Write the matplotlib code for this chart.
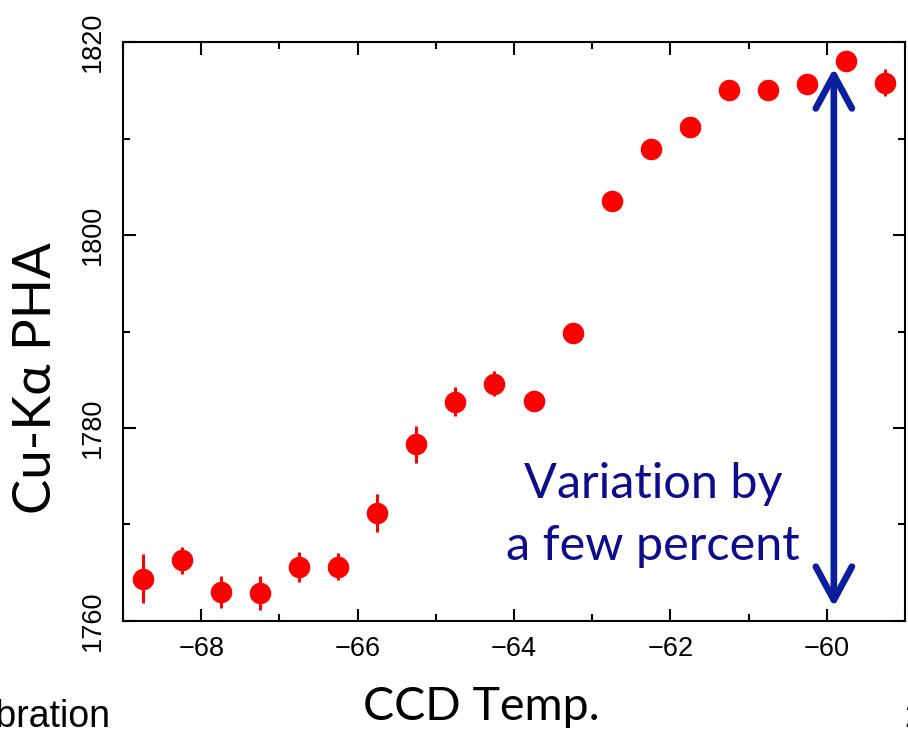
import matplotlib
matplotlib.use('Agg')

import matplotlib.pyplot as plt
from matplotlib.ticker import MultipleLocator

# Data
ccd_temp = [-68.75, -68.25, -67.75, -67.25, -66.75, -66.25, -65.75, -65.25, -64.75, -64.25,
            -63.75, -63.25, -62.75, -62.25, -61.75, -61.25, -60.75, -60.25, -59.75, -59.25]
pha = [1764.4, 1766.3, 1763.0, 1762.9, 1765.6, 1765.6, 1771.2, 1778.3, 1782.7, 1784.6,
       1782.8, 1789.8, 1803.5, 1808.9, 1811.2, 1815.0, 1815.0, 1815.6, 1818.0, 1815.8]
pha_err = [2.5, 1.4, 1.7, 1.75, 1.6, 1.4, 2.0, 1.9, 1.5, 1.3,
           0.9, 0.8, 0.8, 0.8, 0.8, 0.8, 0.8, 0.9, 0.8, 1.4]

x_ticks = [-68, -66, -64, -62, -60]
y_ticks = [1760, 1780, 1800, 1820]

# annotation arrow (data coords)
arrow_x = -59.91
arrow_lo, arrow_hi = 1761.45, 1817.3

COLORS = {
    "points": "#ff0000",
    "arrow": "#0b1e9e",
    "note": "#0c0c8c",
    "axis": "#000000",
}

fig = plt.figure(figsize=(9.08, 7.31), dpi=100)
ax = fig.add_axes([0.1355, 0.1505, 0.8612, 0.792])

ax.errorbar(ccd_temp, pha, yerr=pha_err, fmt='o', color=COLORS["points"],
            markersize=14.5, elinewidth=2.2, capsize=0, zorder=3)

ax.set_xlim(-69, -59)
ax.set_ylim(1760, 1820)
ax.set_xticks(x_ticks)
ax.set_yticks(y_ticks)
ax.xaxis.set_minor_locator(MultipleLocator(1))
ax.yaxis.set_minor_locator(MultipleLocator(10))

ax.tick_params(which='both', direction='in', top=True, right=True, width=1.5,
               labelsize=19.5, colors=COLORS["axis"])
ax.tick_params(which='major', length=9)
ax.tick_params(which='minor', length=5)
ax.tick_params(axis='x', pad=11)
ax.tick_params(axis='y', pad=12)
for lab in ax.get_xticklabels() + ax.get_yticklabels():
    lab.set_family('Liberation Sans')
plt.setp(ax.get_yticklabels(), rotation=90, va='center')
for sp in ax.spines.values():
    sp.set_linewidth(1.5)

# double-headed arrow
ax.annotate('', xy=(arrow_x, arrow_hi), xytext=(arrow_x, arrow_lo),
            arrowprops=dict(arrowstyle='<->, head_length=1.2, head_width=0.65',
                            mutation_scale=20, color=COLORS["arrow"], lw=4.8,
                            shrinkA=0, shrinkB=0))

ax.text(-62.22, 1771.0, 'Variation by\na few percent', ha='center', va='center',
        multialignment='center', fontsize=35, color=COLORS["note"],
        family=['Lato', 'DejaVu Sans'], linespacing=1.5)

# axis titles placed as on the slide
fig.text(37 / 908, 1 - 378 / 731, 'Cu-K\u03b1 PHA', rotation=90, ha='center', va='center',
         fontsize=38, family=['Lato', 'DejaVu Sans'])
fig.text(481.5 / 908, 1 - 720 / 731, 'CCD Temp.', ha='center', va='baseline',
         fontsize=33.5, family=['Lato', 'DejaVu Sans'])

# slide leftovers at the edges
fig.text(110 / 908, 1 - 727 / 731, 'Calibration', ha='right', va='baseline',
         fontsize=27, family='Liberation Sans')
fig.text(904 / 908, 1 - 727 / 731, '2', ha='left', va='baseline',
         fontsize=24, family='Liberation Sans')

fig.savefig('out.png', dpi=100, facecolor='white')
